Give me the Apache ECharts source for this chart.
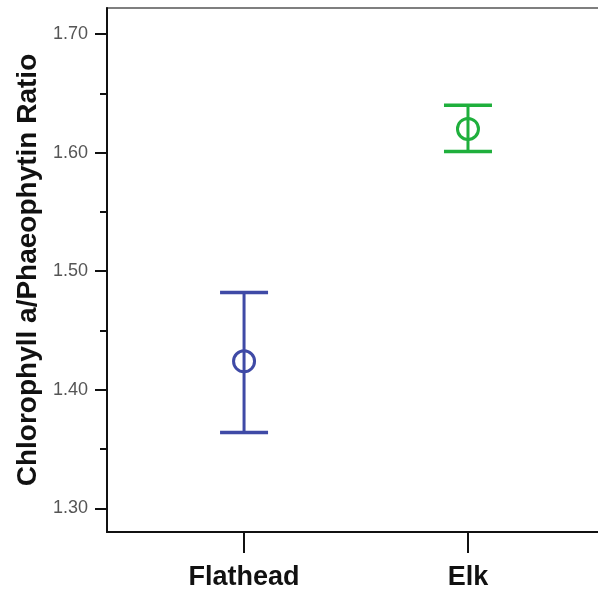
<!DOCTYPE html>
<html>
<head>
<meta charset="utf-8">
<script src="https://cdn.jsdelivr.net/npm/echarts@6/dist/echarts.min.js"></script>
<style>html,body{margin:0;padding:0;background:#fff;}#c{width:598px;height:608px;}</style>
</head>
<body>
<div id="c"></div>
<script>
const categories = ['Flathead', 'Elk'];
const means = [1.424, 1.620];
const lower = [1.364, 1.601];
const upper = [1.482, 1.640];
const yMajorTicks = [1.30, 1.40, 1.50, 1.60, 1.70];
const yMinorTicks = [1.35, 1.45, 1.55, 1.65];
const seriesColors = ['#3F4AA6', '#1FAF3C'];

const chart = echarts.init(document.getElementById('c'));
const data = categories.map((c, i) => [i + 1, means[i], lower[i], upper[i]]);

chart.setOption({
  backgroundColor: '#fff',
  animation: false,
  grid: { left: 107, top: 8, right: -3, bottom: 76, outerBoundsMode: 'none', containLabel: false,
    show: true, borderColor: '#555', borderWidth: 1.5, backgroundColor: 'transparent' },
  xAxis: {
    type: 'value', min: 0.388, max: 2.594,
    axisLine: { show: true, lineStyle: { color: '#111', width: 2 } },
    axisTick: { show: true, customValues: [1, 2], inside: false, length: 21, lineStyle: { color: '#111', width: 2 } },
    axisLabel: { customValues: [1, 2], formatter: v => categories[Math.round(v) - 1] || '', margin: 32,
      fontFamily: 'Liberation Sans, Arial', fontWeight: 'bold', fontSize: 27, color: '#111' },
    splitLine: { show: false }
  },
  yAxis: [{
    type: 'value', min: 1.28, max: 1.722,
    name: 'Chlorophyll a/Phaeophytin Ratio', nameLocation: 'middle', nameGap: 65, nameRotate: 90,
    nameTextStyle: { fontFamily: 'Liberation Sans, Arial', fontWeight: 'bold', fontSize: 28, color: '#111' },
    axisLine: { show: true, lineStyle: { color: '#111', width: 2 } },
    axisTick: { show: true, customValues: yMajorTicks, length: 12, lineStyle: { color: '#111', width: 2 } },
    axisLabel: { customValues: yMajorTicks, formatter: v => v.toFixed(2), margin: 19,
      fontFamily: 'Liberation Sans, Arial', fontSize: 18, color: '#555' },
    splitLine: { show: false }
  }, {
    type: 'value', min: 1.28, max: 1.722, position: 'left',
    axisLine: { show: false },
    axisTick: { show: true, customValues: yMinorTicks, length: 7, lineStyle: { color: '#111', width: 2 } },
    axisLabel: { show: false },
    splitLine: { show: false }
  }],
  series: [{
    type: 'custom',
    data: data,
    encode: { x: 0, y: [1, 2, 3] },
    renderItem: function (params, api) {
      const x = api.value(0);
      const pM = api.coord([x, api.value(1)]);
      const pLo = api.coord([x, api.value(2)]);
      const pHi = api.coord([x, api.value(3)]);
      const color = seriesColors[params.dataIndex];
      const hw = 24;
      const st = { stroke: color, lineWidth: 3.5, fill: null };
      return {
        type: 'group',
        children: [
          { type: 'line', shape: { x1: pHi[0], y1: pHi[1], x2: pLo[0], y2: pLo[1] }, style: { stroke: color, lineWidth: 3 } },
          { type: 'line', shape: { x1: pHi[0] - hw, y1: pHi[1], x2: pHi[0] + hw, y2: pHi[1] }, style: st },
          { type: 'line', shape: { x1: pLo[0] - hw, y1: pLo[1], x2: pLo[0] + hw, y2: pLo[1] }, style: st },
          { type: 'circle', shape: { cx: pM[0], cy: pM[1], r: 10.5 }, style: { stroke: color, lineWidth: 3, fill: null } }
        ]
      };
    }
  }]
});
</script>
</body>
</html>
